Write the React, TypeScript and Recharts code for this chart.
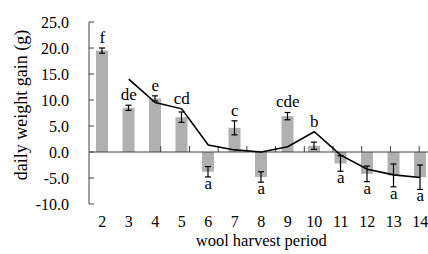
import React from 'react';
import {
  ComposedChart, Bar, Line, XAxis, YAxis, ErrorBar, ReferenceLine, Scatter, Label,
} from 'recharts';

const periods = ['2', '3', '4', '5', '6', '7', '8', '9', '10', '11', '12', '13', '14'];
const means = [19.5, 8.5, 10.3, 6.7, -3.8, 4.65, -4.8, 6.9, 1.2, -2.2, -4.2, -4.5, -4.85];
const errs = [0.5, 0.5, 0.5, 1.0, 1.0, 1.35, 1.0, 0.7, 0.7, 1.5, 1.5, 2.2, 2.35];
const trend: (number | null)[] = [null, 14.0, 9.5, 8.3, 1.35, 0.4, 0.0, 1.0, 3.9, -0.6, -3.3, -4.4, -4.9];
const letters = ['f', 'de', 'e', 'cd', 'a', 'c', 'a', 'cde', 'b', 'a', 'a', 'a', 'a'];
const yTicks = [-10, -5, 0, 5, 10, 15, 20, 25];

const FONT = 'Liberation Serif';

const data = periods.map((p, i) => {
  const v = means[i];
  const e = errs[i];
  const l = trend[i];
  let anchor: number;
  if (v >= 0) {
    anchor = v + e;
    if (l !== null && l > anchor && l - anchor < 3) anchor = l;
  } else {
    anchor = v - e;
  }
  return { period: p, mean: v, err: e, trend: l, anchor, letter: letters[i], pos: v >= 0 };
});

const boundaries = periods.slice(1).map((p) => Number(p) - 0.5).concat([Number(periods[periods.length - 1]) + 0.5]);

const LetterShape = (props: any) => {
  const { cx, cy, payload } = props;
  if (cx == null || cy == null) return null;
  const y = payload.pos ? cy - 5 : cy + 12;
  return (
    <text x={cx} y={y} textAnchor="middle" style={{ fontFamily: FONT, fontSize: 17 }} fill="#000">
      {payload.letter}
    </text>
  );
};

const YTitle = (props: any) => {
  const vb = props.viewBox || {};
  const cx = (vb.x || 0) + 21;
  const cy = (vb.y || 0) + vb.height / 2 - 8;
  return (
    <text
      x={cx}
      y={cy}
      transform={`rotate(-90 ${cx} ${cy})`}
      textAnchor="middle"
      dominantBaseline="central"
      style={{ fontFamily: FONT, fontSize: 18 }}
      fill="#000"
    >
      daily weight gain (g)
    </text>
  );
};

export default function App() {
  return (
    <div style={{ position: 'fixed', left: 0, top: 0, width: 428, height: 254, overflow: 'hidden', background: '#fff', fontFamily: FONT }}>
      <ComposedChart
        width={440}
        height={254}
        data={data}
        margin={{ top: 22, right: 6.5, bottom: 0, left: 0 }}
        style={{ fontFamily: FONT }}
      >
        <XAxis
          dataKey="period"
          interval={0}
          axisLine={false}
          tickLine={false}
          tickSize={0}
          tickMargin={12}
          height={50}
          tick={{ style: { fontFamily: FONT }, fontSize: 16, fill: '#000' }}
        >
          <Label
            value="wool harvest period"
            position="insideBottom"
            offset={8}
            style={{ fontFamily: FONT, fontSize: 16.5, fill: '#000' }}
          />
        </XAxis>
        <XAxis xAxisId="b" type="number" domain={[1.5, 14.5]} hide allowDataOverflow />
        <YAxis
          width={89}
          domain={[-10, 25]}
          ticks={yTicks}
          interval={0}
          tickFormatter={(v: number) => v.toFixed(1)}
          axisLine={{ stroke: '#404040', strokeWidth: 1 }}
          tickLine={{ stroke: '#404040', strokeWidth: 1 }}
          tickSize={-5}
          tickMargin={25}
          tick={{ style: { fontFamily: FONT }, fontSize: 16, fill: '#000' }}
          allowDataOverflow
        >
          <Label content={<YTitle />} position="insideLeft" />
        </YAxis>
        <Bar dataKey="mean" fill="#b0b0b0" barSize={12} isAnimationActive={false}>
          <ErrorBar dataKey="err" width={3} stroke="#000" strokeWidth={1.2} isAnimationActive={false} />
        </Bar>
        <ReferenceLine y={0} stroke="#404040" strokeWidth={1} />
        {boundaries.map((b) => (
          <ReferenceLine
            key={b}
            xAxisId="b"
            segment={[{ x: b, y: 0 }, { x: b, y: 1.15 }]}
            stroke="#404040"
            strokeWidth={1}
            ifOverflow="visible"
          />
        ))}
        <Line
          dataKey="trend"
          stroke="#000"
          strokeWidth={1.6}
          dot={false}
          connectNulls={false}
          isAnimationActive={false}
        />
        <Scatter dataKey="anchor" shape={<LetterShape />} isAnimationActive={false} />
      </ComposedChart>
    </div>
  );
}
